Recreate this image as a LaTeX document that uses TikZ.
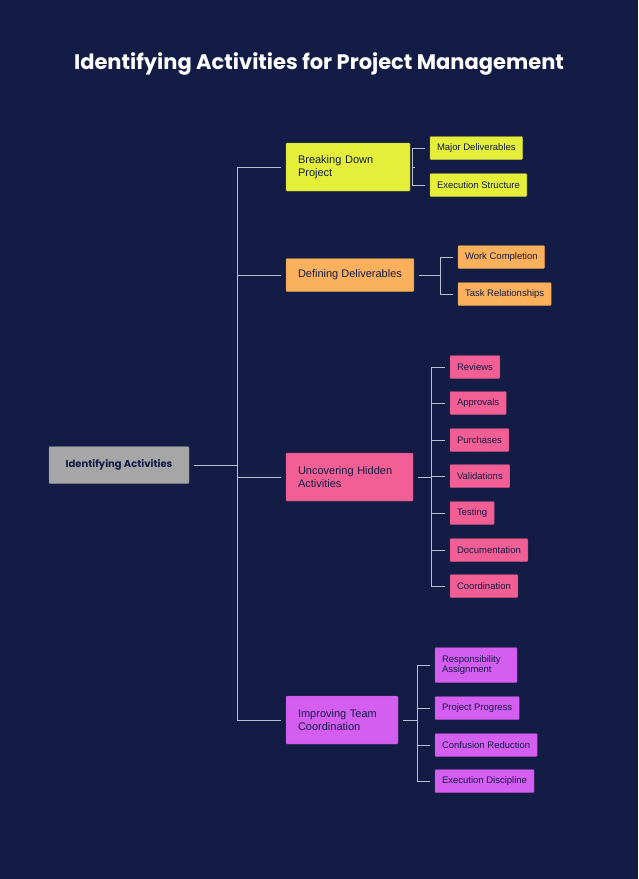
\documentclass[tikz,border=0pt]{standalone}
\usepackage{fontspec}
\setmainfont{Liberation Sans}
\newfontfamily\titlefont{Poppins}[BoldFont={* Bold}]
\usetikzlibrary{positioning,calc}
\definecolor{bgnavy}{HTML}{121C45}
\definecolor{linkgray}{HTML}{B8BFD0}
\definecolor{rootgray}{HTML}{A6A6A6}
\definecolor{yel}{HTML}{E5EF3A}
\definecolor{ora}{HTML}{FBB05C}
\definecolor{pnk}{HTML}{F25F95}
\definecolor{pur}{HTML}{D45EF0}
\tikzset{
  box/.style={draw=#1!80!black,fill=#1,rounded corners=1pt,anchor=west,align=left,text=bgnavy,outer sep=5pt},
  branch/.style={box=#1,font=\fontsize{11}{13}\selectfont,inner xsep=12pt,minimum height=33pt},
  leaf/.style={box=#1,font=\fontsize{9.5}{10.5}\selectfont,inner xsep=7pt,minimum height=23pt},
  link/.style={draw=linkgray,line width=1pt}
}
\begin{document}
\begin{tikzpicture}[x=1pt,y=-1pt]
  \fill[bgnavy] (0,0) rectangle (638,879);
  \useasboundingbox (0,0) rectangle (638,879);
  % title
  \node (title) at (319,64) {\titlefont\bfseries\fontsize{21}{24}\selectfont\color{white}Identifying Activities for Project Management};

  % root and trunk
  \node (root) [box=rootgray,inner xsep=12pt,minimum width=140pt,minimum height=37pt,align=center,font=\titlefont\bfseries\fontsize{10}{12}\selectfont,anchor=center] at (119,465) {Identifying Activities};
  \coordinate (t) at (237,465);
  \draw[link] (root) -- (t);

  % branches
  \node (b1) [branch=yel,minimum height=48pt,text width=100pt] at (281,167) {Breaking Down\\Project};
  \node (b2) [branch=ora] at (281,275) {Defining Deliverables};
  \node (b3) [branch=pnk,minimum height=48pt,text width=103pt] at (281,477) {Uncovering Hidden\\Activities};
  \node (b4) [branch=pur,minimum height=48pt,text width=88pt] at (281,720) {Improving Team\\Coordination};
  \foreach \b in {b1,b2,b3,b4}
    \draw[link] (t) |- (\b.west);

  % leaves of b1
  \node (l11) [leaf=yel] at (425,148) {Major Deliverables};
  \node (l12) [leaf=yel] at (425,185) {Execution Structure};
  \coordinate (k1) at (412,167);
  \draw[link] (b1) -- (k1);
  \foreach \l in {l11,l12} \draw[link] (k1) |- (\l.west);

  % leaves of b2
  \node (l21) [leaf=ora] at (453,257) {Work Completion};
  \node (l22) [leaf=ora] at (453,294) {Task Relationships};
  \coordinate (k2) at (440,275);
  \draw[link] (b2) -- (k2);
  \foreach \l in {l21,l22} \draw[link] (k2) |- (\l.west);

  % leaves of b3
  \foreach \n/\y/\txt in {1/367/Reviews,2/403/Approvals,3/440/Purchases,4/476/Validations,5/513/Testing,6/550/Documentation,7/586/Coordination}
    \node (l3\n) [leaf=pnk] at (445,\y) {\txt};
  \coordinate (k3) at (431,477);
  \draw[link] (b3) -- (k3);
  \foreach \n in {1,...,7} \draw[link] (k3) |- (l3\n.west);

  % leaves of b4
  \node (l41) [leaf=pur,minimum height=35pt,text width=68pt,font=\fontsize{9.5}{10.5}\selectfont] at (430,665) {Responsibility\\Assignment};
  \node (l42) [leaf=pur] at (430,708) {Project Progress};
  \node (l43) [leaf=pur] at (430,745) {Confusion Reduction};
  \node (l44) [leaf=pur] at (430,781) {Execution Discipline};
  \coordinate (k4) at (417,720);
  \draw[link] (b4) -- (k4);
  \foreach \l in {l41,l42,l43,l44} \draw[link] (k4) |- (\l.west);
\end{tikzpicture}
\end{document}
